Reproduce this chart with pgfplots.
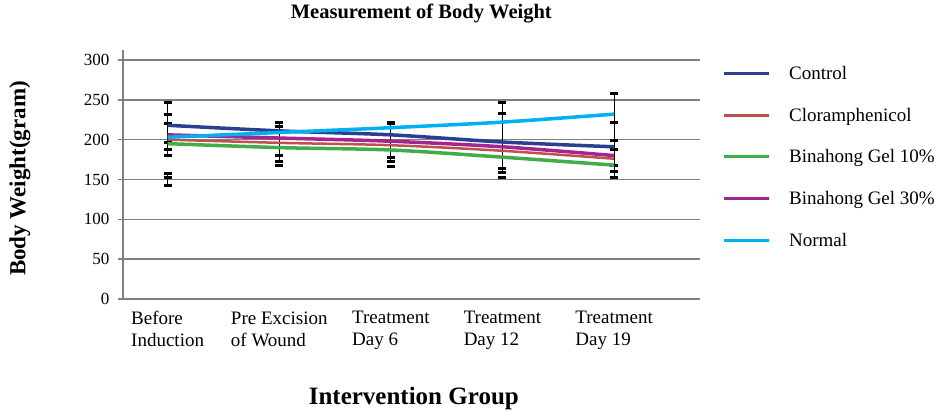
\documentclass[border=0pt]{standalone}
\usepackage{pgfplots}
\pgfplotsset{compat=1.18}
\usepackage{fontspec}
\setmainfont{Liberation Serif}

\definecolor{cControl}{HTML}{2A3F8F}
\definecolor{cClor}{HTML}{C0504D}
\definecolor{cBin10}{HTML}{43AC4A}
\definecolor{cBin30}{HTML}{A3268F}
\definecolor{cNormal}{HTML}{00B0F0}
\definecolor{cGrid}{HTML}{808080}

\begin{document}
\begin{tikzpicture}
\path[use as bounding box] (0,0) rectangle (941pt,412pt);
\begin{axis}[
    at={(123pt,113pt)}, anchor=south west,
    scale only axis,
    width=577pt, height=249.4pt,
    xmin=-0.4, xmax=4.77,
    ymin=0, ymax=313,
    axis x line=bottom, axis y line=left,
    axis line style={-, cGrid, line width=1.6pt},
    ytick={0,50,...,300},
    xtick={0,1,2,3,4},
    xticklabels={{Before\\Induction},{Pre Excision\\of Wound},{Treatment\\Day 6},{Treatment\\Day 12},{Treatment\\Day 19}},
    xtick style={draw=none},
    ytick style={cGrid, line width=1.6pt},
    tick align=outside,
    major tick length=5pt,
    ymajorgrids,
    grid style={cGrid, line width=1.6pt},
    /pgf/number format/assume math mode=true,
    yticklabel style={font=\fontsize{17}{20}\selectfont, xshift=-5pt},
    xticklabel style={font=\fontsize{19}{22}\selectfont, align=left, anchor=north, yshift=-4pt},
    title={Measurement of Body Weight},
    title style={font=\fontsize{20.5}{24}\selectfont\bfseries, at={(axis description cs:0.517,1)}, anchor=center, yshift=29.6pt},
    xlabel={Intervention Group},
    xlabel style={font=\fontsize{25}{28}\selectfont\bfseries, at={(axis description cs:0.504,0)}, anchor=center, yshift=-99pt},
    ylabel={Body Weight(gram)},
    ylabel style={font=\fontsize{23}{26}\selectfont\bfseries, at={(axis description cs:-0.1785,0.483)}, anchor=center, rotate=0},
    legend style={draw=none, fill=none, at={(axis description cs:1.0380,0.942)}, anchor=north west,
        font=\fontsize{19}{22}\selectfont, inner sep=0pt, row sep=23pt,
        /tikz/every odd column/.style={column sep=17pt}},
    legend cell align=left,
    legend image code/.code={\draw[#1, line width=3pt] (0pt,0pt) -- (45pt,0pt);},
]

% error bars (segments)
\addplot[draw=none, forget plot,
    error bars/.cd, y dir=both, y explicit,
    error bar style={black, line width=0.8pt},
    error mark options={rotate=90, black, line width=3pt, mark size=4pt}]
table[y error=e] {
x y e
0 217.5 29.5
0 205.5 25.5
0 208.5 11.5
0 150 8
0 153 0
1 200.5 20.5
1 194.5 21.5
1 168 0
2 199.5 22.5
2 196 24
2 166 0
3 205 41
3 196 37
3 153 0
4 209 49
4 195 27
4 175.5 23.5
4 187 0
};

\addplot[cControl, line width=3.5pt, smooth] coordinates {(0,218) (1,211) (2,206) (3,197) (4,191)};
\addplot[cClor, line width=2.5pt, smooth] coordinates {(0,200) (1,196) (2,193) (3,186) (4,176)};
\addplot[cBin10, line width=3.5pt, smooth] coordinates {(0,195) (1,190) (2,187) (3,178) (4,168)};
\addplot[cBin30, line width=3.5pt, smooth] coordinates {(0,206) (1,202) (2,198) (3,191) (4,180)};
\addplot[cNormal, line width=3.5pt, smooth] coordinates {(0,203) (1,209) (2,215) (3,222) (4,232)};
\legend{Control, Cloramphenicol, Binahong Gel 10\%, Binahong Gel 30\%, Normal}
\end{axis}
\end{tikzpicture}
\end{document}
